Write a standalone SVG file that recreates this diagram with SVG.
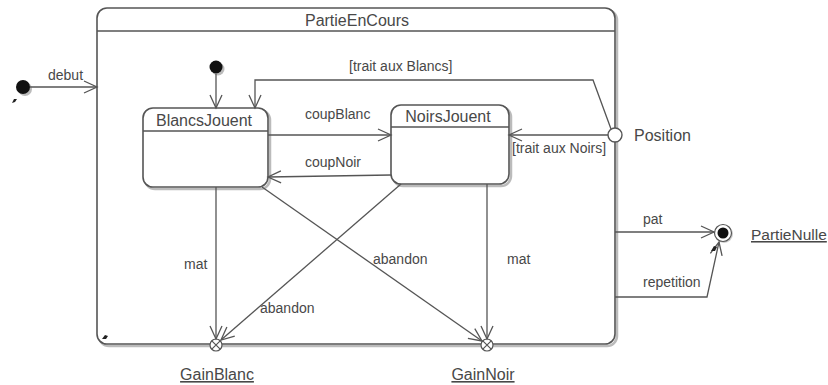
<svg xmlns="http://www.w3.org/2000/svg" width="828" height="385" viewBox="0 0 828 385">
<defs>
<style>
text{font-family:"Liberation Sans",Arial,sans-serif;font-size:14px;fill:#484848}
.nm{font-size:16px}
.st{fill:#fff;stroke:#555;stroke-width:1.6}
.sh{fill:none;stroke:#bbb;stroke-width:2.5}
.ln{fill:none;stroke:#555;stroke-width:1.3}
.u{text-decoration:underline}
</style>
<marker id="ar" markerWidth="16" markerHeight="14" refX="14" refY="7" orient="auto" markerUnits="userSpaceOnUse">
<path d="M1,1 L14,7 L1,13" fill="none" stroke="#555" stroke-width="1.3"/>
</marker>
</defs>
<rect width="828" height="385" fill="#fff"/>

<g id="PartieEnCours">
<rect x="99" y="10" width="518" height="336" rx="10" class="sh"/>
<rect x="97" y="8" width="518" height="336" rx="10" class="st"/>
<line x1="97" y1="31" x2="615" y2="31" stroke="#555" stroke-width="1.6"/>
<text x="357" y="26" text-anchor="middle" class="nm">PartieEnCours</text>
<path d="M102,339 l3,-4 l3,1 l-2,3 z" fill="#222"/>
</g>

<g id="init_outer">
<circle cx="25" cy="89" r="7" fill="#bbb"/>
<circle cx="23" cy="87" r="7" fill="#111"/>
<path d="M12,103 l2,-4 l3,0 l-2,3 z" fill="#222"/>
</g>

<g id="init_inner">
<circle cx="218" cy="69" r="6.5" fill="#bbb"/>
<circle cx="216" cy="67" r="6.5" fill="#111"/>
</g>

<g id="BlancsJouent">
<rect x="145" y="110" width="125" height="79" rx="10" class="sh"/>
<rect x="143" y="108" width="125" height="79" rx="10" class="st"/>
<line x1="143" y1="131" x2="268" y2="131" stroke="#555" stroke-width="1.6"/>
<text x="204" y="126" text-anchor="middle" class="nm">BlancsJouent</text>
</g>

<g id="NoirsJouent">
<rect x="393" y="107" width="118" height="79" rx="10" class="sh"/>
<rect x="391" y="105" width="118" height="79" rx="10" class="st"/>
<line x1="391" y1="127" x2="509" y2="127" stroke="#555" stroke-width="1.6"/>
<text x="448" y="122" text-anchor="middle" class="nm">NoirsJouent</text>
</g>

<g id="Position">
<circle cx="615" cy="135" r="7" fill="#fff" stroke="#555" stroke-width="1.4"/>
<text x="634" y="141" class="nm">Position</text>
</g>

<g id="GainBlanc">
<circle cx="216" cy="345" r="6" fill="#fff" stroke="#555" stroke-width="1.2"/>
<path d="M211.8,340.8 L220.2,349.2 M220.2,340.8 L211.8,349.2" stroke="#555" stroke-width="1.2"/>
<text x="217" y="380" text-anchor="middle" class="nm u">GainBlanc</text>
</g>

<g id="GainNoir">
<circle cx="487" cy="345" r="6" fill="#fff" stroke="#555" stroke-width="1.2"/>
<path d="M482.8,340.8 L491.2,349.2 M491.2,340.8 L482.8,349.2" stroke="#555" stroke-width="1.2"/>
<text x="483" y="380" text-anchor="middle" class="nm u">GainNoir</text>
</g>

<g id="PartieNulle">
<circle cx="724" cy="234" r="9" fill="#ccc"/>
<circle cx="723" cy="233" r="8.5" fill="#fff" stroke="#555" stroke-width="1.2"/>
<circle cx="723" cy="233" r="5.5" fill="#111"/>
<text x="751" y="240" class="nm u" font-size="15.5" style="font-size:15.5px">PartieNulle</text>
</g>

<g id="connectors">
<line x1="30" y1="87" x2="97" y2="87" class="ln" marker-end="url(#ar)"/>
<text x="48" y="80">debut</text>

<line x1="216" y1="74" x2="216" y2="108" class="ln" marker-end="url(#ar)"/>

<polyline points="611,129 593,80 255,80 255,108" class="ln" marker-end="url(#ar)"/>
<text x="349" y="71">[trait aux Blancs]</text>

<line x1="608" y1="135" x2="509" y2="135" class="ln" marker-end="url(#ar)"/>
<text x="512" y="153">[trait aux Noirs]</text>

<line x1="268" y1="135" x2="391" y2="135" class="ln" marker-end="url(#ar)"/>
<text x="305" y="119">coupBlanc</text>

<line x1="391" y1="175" x2="268" y2="177" class="ln" marker-end="url(#ar)"/>
<text x="305" y="167">coupNoir</text>

<line x1="216" y1="187" x2="216" y2="339" class="ln" marker-end="url(#ar)"/>
<text x="184" y="269">mat</text>

<line x1="487" y1="184" x2="487" y2="339" class="ln" marker-end="url(#ar)"/>
<text x="507" y="264">mat</text>

<line x1="262" y1="187" x2="482" y2="341" class="ln" marker-end="url(#ar)"/>
<text x="373" y="264">abandon</text>

<line x1="401" y1="184" x2="221" y2="340" class="ln" marker-end="url(#ar)"/>
<text x="260" y="313">abandon</text>

<line x1="615" y1="232" x2="714" y2="232" class="ln" marker-end="url(#ar)"/>
<text x="643" y="224">pat</text>

<polyline points="615,297 707,297 719,242" class="ln" marker-end="url(#ar)"/>
<text x="643" y="287">repetition</text>
<path d="M711,251 l3,-5 l3,1 l-2,4 z" fill="#222"/>
</g>
</svg>
